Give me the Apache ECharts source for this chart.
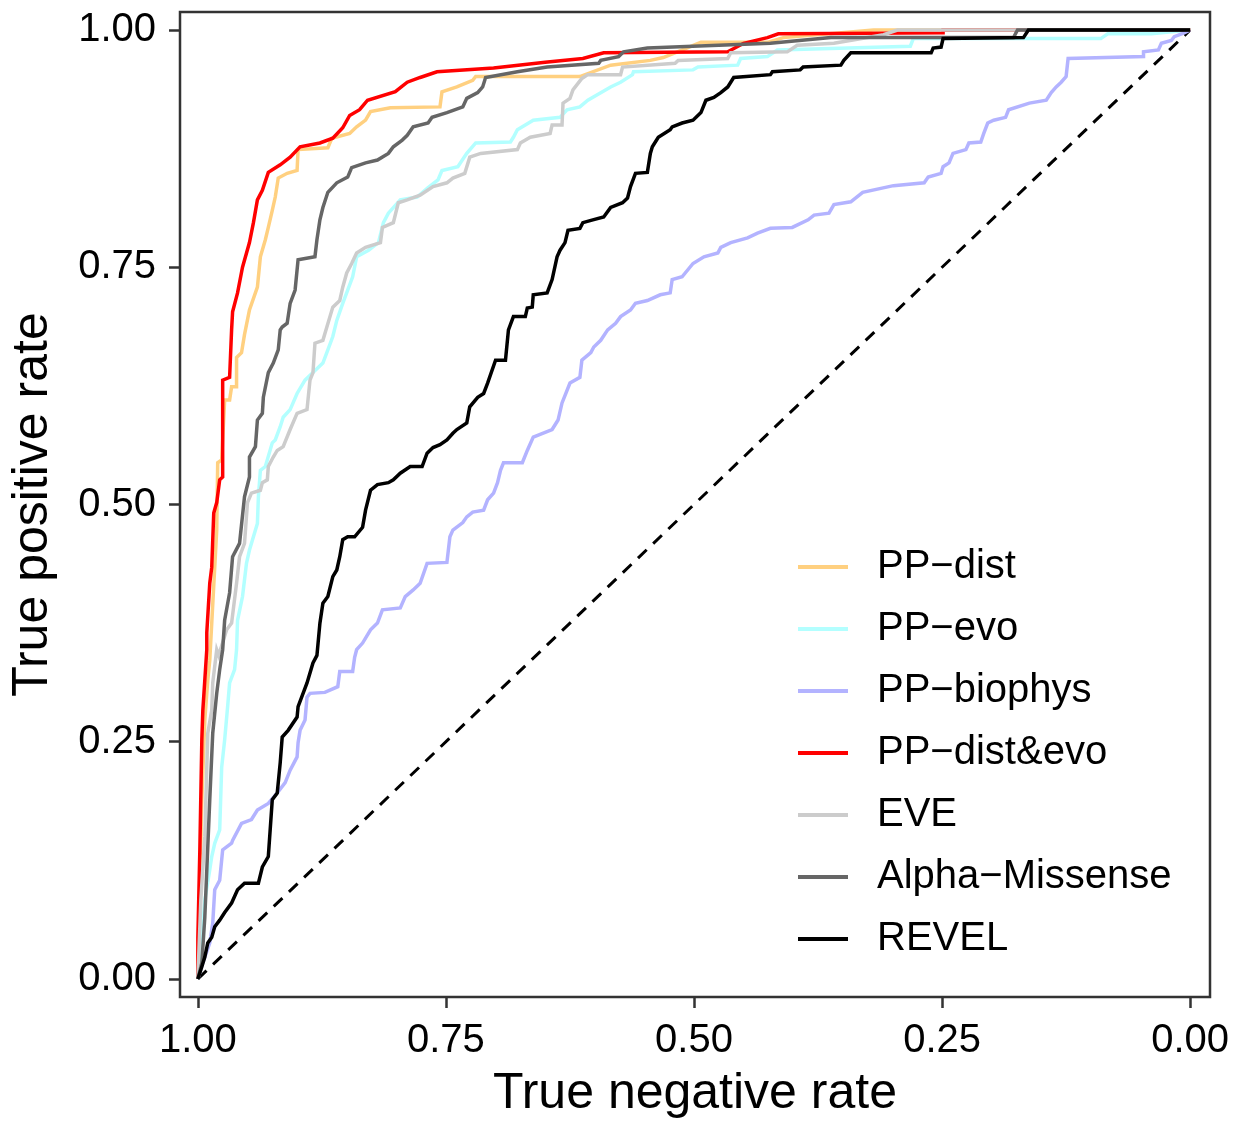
<!DOCTYPE html>
<html>
<head>
<meta charset="utf-8">
<script src="https://cdn.jsdelivr.net/npm/echarts@6/dist/echarts.min.js"></script>
<style>
html,body{margin:0;padding:0;background:#fff;}
#chart{width:1239px;height:1124px;}
</style>
</head>
<body>
<div id="chart"></div>
<script>
// Each point: [true negative rate, true positive rate]
var seriesNames = ['PP\u2212dist', 'PP\u2212evo', 'PP\u2212biophys', 'PP\u2212dist&evo', 'EVE', 'Alpha\u2212Missense', 'REVEL'];
var tickValues = [0, 0.25, 0.5, 0.75, 1];

var ppDist = [[1,0],[0.999,0.052],[0.996,0.189],[0.993,0.273],[0.990,0.315],[0.988,0.336],[0.981,0.473],[0.980,0.544],[0.976,0.547],[0.973,0.610],[0.968,0.610],[0.966,0.624],[0.961,0.624],[0.961,0.655],[0.956,0.660],[0.953,0.679],[0.948,0.705],[0.940,0.729],[0.937,0.761],[0.932,0.779],[0.929,0.792],[0.925,0.810],[0.922,0.824],[0.919,0.844],[0.910,0.849],[0.900,0.852],[0.899,0.874],[0.869,0.876],[0.865,0.886],[0.847,0.891],[0.840,0.898],[0.831,0.905],[0.826,0.914],[0.806,0.918],[0.756,0.919],[0.754,0.935],[0.739,0.940],[0.723,0.947],[0.720,0.951],[0.615,0.951],[0.584,0.963],[0.544,0.968],[0.531,0.971],[0.493,0.987],[0.426,0.987],[0.410,0.992],[0.319,1.0],[0,1]];

var ppEvo = [[1,0],[0.998,0.020],[0.993,0.083],[0.988,0.115],[0.986,0.129],[0.983,0.143],[0.978,0.157],[0.976,0.223],[0.973,0.252],[0.970,0.287],[0.968,0.312],[0.963,0.326],[0.961,0.347],[0.960,0.378],[0.955,0.403],[0.951,0.438],[0.948,0.452],[0.940,0.480],[0.939,0.508],[0.937,0.536],[0.932,0.540],[0.925,0.565],[0.922,0.568],[0.917,0.582],[0.914,0.592],[0.907,0.600],[0.900,0.617],[0.892,0.631],[0.884,0.639],[0.874,0.649],[0.869,0.663],[0.864,0.677],[0.860,0.694],[0.854,0.712],[0.844,0.740],[0.840,0.761],[0.828,0.768],[0.818,0.776],[0.813,0.797],[0.808,0.807],[0.796,0.821],[0.779,0.824],[0.768,0.834],[0.758,0.842],[0.754,0.852],[0.738,0.856],[0.729,0.870],[0.720,0.881],[0.685,0.882],[0.682,0.887],[0.678,0.895],[0.662,0.905],[0.635,0.908],[0.628,0.916],[0.615,0.919],[0.607,0.926],[0.594,0.934],[0.584,0.940],[0.574,0.945],[0.562,0.953],[0.561,0.956],[0.501,0.958],[0.496,0.961],[0.456,0.963],[0.453,0.970],[0.426,0.972],[0.416,0.979],[0.282,0.983],[0.279,0.991],[0.090,0.991],[0.083,0.996],[0.039,0.996],[0,1]];

var ppBiophys = [[1,0],[0.995,0.017],[0.988,0.038],[0.985,0.059],[0.983,0.094],[0.978,0.104],[0.975,0.136],[0.966,0.143],[0.965,0.146],[0.956,0.164],[0.946,0.168],[0.940,0.178],[0.929,0.185],[0.920,0.196],[0.912,0.207],[0.907,0.220],[0.900,0.234],[0.899,0.249],[0.897,0.262],[0.892,0.273],[0.890,0.297],[0.887,0.301],[0.872,0.302],[0.859,0.308],[0.857,0.324],[0.844,0.324],[0.842,0.339],[0.840,0.347],[0.834,0.354],[0.826,0.368],[0.819,0.375],[0.814,0.389],[0.796,0.391],[0.791,0.403],[0.783,0.410],[0.776,0.417],[0.769,0.438],[0.749,0.439],[0.746,0.466],[0.743,0.473],[0.733,0.481],[0.729,0.487],[0.723,0.492],[0.712,0.494],[0.708,0.505],[0.702,0.512],[0.698,0.523],[0.695,0.536],[0.692,0.544],[0.673,0.544],[0.668,0.557],[0.662,0.571],[0.643,0.579],[0.637,0.589],[0.633,0.607],[0.625,0.628],[0.615,0.634],[0.613,0.652],[0.604,0.660],[0.601,0.666],[0.594,0.673],[0.587,0.684],[0.579,0.691],[0.574,0.698],[0.564,0.705],[0.559,0.712],[0.547,0.715],[0.534,0.721],[0.524,0.723],[0.522,0.737],[0.512,0.740],[0.501,0.754],[0.490,0.761],[0.476,0.765],[0.473,0.771],[0.463,0.776],[0.446,0.781],[0.436,0.786],[0.423,0.791],[0.401,0.792],[0.385,0.800],[0.379,0.805],[0.364,0.807],[0.359,0.816],[0.342,0.819],[0.330,0.829],[0.299,0.836],[0.268,0.839],[0.264,0.845],[0.251,0.849],[0.249,0.856],[0.243,0.860],[0.239,0.870],[0.226,0.874],[0.223,0.881],[0.211,0.882],[0.208,0.891],[0.204,0.902],[0.198,0.905],[0.186,0.908],[0.183,0.916],[0.162,0.923],[0.145,0.926],[0.140,0.934],[0.135,0.940],[0.130,0.945],[0.125,0.951],[0.123,0.970],[0.047,0.972],[0.047,0.977],[0.032,0.979],[0.029,0.986],[0.019,0.989],[0.016,0.993],[0.006,0.997],[0,1]];

var ppDistEvo = [[1,0],[1.0,0.044],[0.998,0.136],[0.996,0.252],[0.995,0.283],[0.993,0.315],[0.991,0.347],[0.991,0.365],[0.988,0.417],[0.986,0.434],[0.984,0.491],[0.981,0.502],[0.978,0.526],[0.975,0.529],[0.975,0.631],[0.968,0.634],[0.966,0.684],[0.965,0.703],[0.960,0.723],[0.955,0.750],[0.948,0.776],[0.944,0.797],[0.940,0.821],[0.935,0.831],[0.929,0.850],[0.917,0.858],[0.907,0.866],[0.897,0.877],[0.877,0.881],[0.864,0.886],[0.854,0.897],[0.847,0.910],[0.837,0.916],[0.829,0.926],[0.801,0.935],[0.789,0.945],[0.776,0.950],[0.759,0.956],[0.702,0.960],[0.650,0.966],[0.612,0.970],[0.591,0.976],[0.466,0.977],[0.450,0.986],[0.426,0.992],[0.415,0.996],[0.249,0.997],[0.249,1.0],[0,1]];

var eve = [[1,0],[0.997,0.083],[0.993,0.150],[0.990,0.259],[0.986,0.283],[0.985,0.312],[0.981,0.347],[0.979,0.341],[0.971,0.368],[0.966,0.375],[0.961,0.417],[0.958,0.445],[0.953,0.459],[0.950,0.502],[0.946,0.512],[0.937,0.515],[0.935,0.523],[0.930,0.526],[0.929,0.540],[0.924,0.550],[0.920,0.557],[0.914,0.561],[0.907,0.579],[0.900,0.596],[0.890,0.600],[0.887,0.631],[0.884,0.639],[0.882,0.670],[0.874,0.673],[0.870,0.687],[0.864,0.708],[0.857,0.715],[0.854,0.729],[0.850,0.744],[0.845,0.754],[0.840,0.765],[0.831,0.771],[0.816,0.776],[0.814,0.792],[0.803,0.797],[0.798,0.818],[0.789,0.821],[0.776,0.826],[0.763,0.835],[0.749,0.839],[0.743,0.844],[0.731,0.849],[0.726,0.866],[0.715,0.870],[0.678,0.874],[0.675,0.881],[0.665,0.887],[0.645,0.891],[0.643,0.900],[0.633,0.900],[0.632,0.923],[0.625,0.928],[0.622,0.937],[0.613,0.949],[0.607,0.953],[0.574,0.953],[0.572,0.961],[0.519,0.965],[0.516,0.968],[0.466,0.970],[0.463,0.976],[0.406,0.977],[0.396,0.984],[0.359,0.986],[0.309,0.995],[0.295,1.0],[0,1]];

var alphaMissense = [[1,0],[0.996,0.017],[0.993,0.065],[0.988,0.189],[0.985,0.259],[0.981,0.301],[0.978,0.326],[0.975,0.347],[0.973,0.378],[0.968,0.407],[0.965,0.445],[0.958,0.459],[0.953,0.508],[0.948,0.529],[0.948,0.550],[0.942,0.561],[0.940,0.589],[0.935,0.596],[0.934,0.613],[0.929,0.639],[0.924,0.649],[0.919,0.663],[0.917,0.684],[0.915,0.687],[0.910,0.691],[0.907,0.712],[0.902,0.726],[0.899,0.758],[0.882,0.761],[0.880,0.779],[0.877,0.800],[0.874,0.813],[0.869,0.829],[0.860,0.839],[0.849,0.845],[0.845,0.855],[0.831,0.860],[0.819,0.863],[0.808,0.870],[0.803,0.877],[0.794,0.884],[0.789,0.889],[0.783,0.898],[0.768,0.902],[0.764,0.908],[0.749,0.913],[0.733,0.919],[0.729,0.928],[0.718,0.934],[0.713,0.940],[0.710,0.950],[0.678,0.956],[0.648,0.961],[0.596,0.965],[0.594,0.968],[0.576,0.972],[0.571,0.977],[0.547,0.981],[0.423,0.986],[0.362,0.992],[0.178,0.992],[0.174,1.0],[0,1]];

var revel = [[1,0],[0.996,0.013],[0.993,0.023],[0.990,0.038],[0.986,0.044],[0.983,0.055],[0.978,0.062],[0.973,0.070],[0.966,0.080],[0.960,0.094],[0.953,0.101],[0.939,0.101],[0.935,0.118],[0.929,0.129],[0.925,0.189],[0.920,0.196],[0.917,0.228],[0.915,0.255],[0.909,0.262],[0.900,0.276],[0.899,0.287],[0.890,0.312],[0.884,0.333],[0.880,0.341],[0.877,0.375],[0.874,0.396],[0.869,0.403],[0.864,0.424],[0.860,0.431],[0.857,0.445],[0.854,0.463],[0.849,0.466],[0.842,0.466],[0.834,0.476],[0.831,0.494],[0.826,0.515],[0.819,0.521],[0.808,0.523],[0.803,0.526],[0.796,0.533],[0.786,0.540],[0.774,0.540],[0.769,0.554],[0.763,0.560],[0.756,0.563],[0.749,0.568],[0.743,0.575],[0.739,0.579],[0.729,0.586],[0.726,0.603],[0.718,0.613],[0.712,0.617],[0.708,0.628],[0.700,0.652],[0.690,0.652],[0.687,0.684],[0.682,0.698],[0.670,0.698],[0.668,0.707],[0.663,0.708],[0.662,0.721],[0.648,0.723],[0.643,0.737],[0.638,0.761],[0.635,0.768],[0.630,0.776],[0.627,0.789],[0.615,0.791],[0.612,0.797],[0.602,0.800],[0.591,0.803],[0.584,0.813],[0.572,0.818],[0.567,0.823],[0.564,0.835],[0.559,0.849],[0.547,0.850],[0.544,0.870],[0.542,0.877],[0.536,0.887],[0.524,0.895],[0.522,0.898],[0.512,0.902],[0.501,0.905],[0.493,0.913],[0.488,0.926],[0.480,0.929],[0.473,0.934],[0.466,0.940],[0.460,0.950],[0.423,0.953],[0.421,0.956],[0.393,0.958],[0.390,0.961],[0.352,0.963],[0.349,0.968],[0.342,0.976],[0.261,0.976],[0.259,0.981],[0.251,0.982],[0.249,0.991],[0.168,0.992],[0.163,1.0],[0,1]];

var diagonal = [[1,0],[0,1]];

var colors = ['#FFD080', '#B3FFFF', '#B3B3FF', '#FF0000', '#CCCCCC', '#666666', '#000000'];
var curves = [ppDist, ppEvo, ppBiophys, ppDistEvo, eve, alphaMissense, revel];

var FONT = '"Liberation Sans", Arial, Helvetica, sans-serif';
var chart = echarts.init(document.getElementById('chart'), null, {renderer: 'canvas'});

var series = [{
  name: 'diag',
  type: 'line',
  data: diagonal,
  symbol: 'none',
  silent: true,
  lineStyle: {color: '#000', width: 3, type: [12, 9]},
  z: 1
}];
curves.forEach(function (d, i) {
  series.push({
    name: seriesNames[i],
    type: 'line',
    data: d,
    symbol: 'none',
    silent: true,
    lineStyle: {color: colors[i], width: 3.5, join: 'miter'},
    itemStyle: {color: colors[i]},
    z: 2 + i
  });
});

var axisCommon = {
  type: 'value',
  splitLine: {show: false},
  axisLine: {show: false, onZero: false},
  axisTick: {show: true, inside: false, length: 11, lineStyle: {color: '#333', width: 2.5}, customValues: tickValues},
  axisLabel: {customValues: tickValues, color: '#000', fontSize: 40, fontFamily: FONT,
    formatter: function (v) { return v.toFixed(2); }},
  nameLocation: 'middle',
  nameTextStyle: {color: '#000', fontSize: 50, fontFamily: FONT}
};

chart.setOption({
  animation: false,
  backgroundColor: '#fff',
  grid: {left: 180, right: 29, top: 12, bottom: 127, show: true, borderColor: '#333', borderWidth: 2.5, backgroundColor: 'transparent'},
  xAxis: Object.assign({}, axisCommon, {
    min: -0.02, max: 1.018, inverse: true, position: 'bottom',
    name: 'True negative rate', nameGap: 72,
    axisLabel: Object.assign({}, axisCommon.axisLabel, {margin: 24})
  }),
  yAxis: Object.assign({}, axisCommon, {
    min: -0.019, max: 1.019, position: 'left',
    name: 'True positive rate', nameGap: 122,
    axisLabel: Object.assign({}, axisCommon.axisLabel, {margin: 24})
  }),
  legend: {
    data: seriesNames,
    orient: 'vertical',
    left: 793, top: 542,
    icon: 'rect',
    itemWidth: 50, itemHeight: 4,
    itemGap: 22,
    selectedMode: false,
    textStyle: {color: '#000', fontSize: 40, fontFamily: FONT, lineHeight: 40, padding: [0, 0, 0, 24]}
  },
  series: series
});
</script>
</body>
</html>
